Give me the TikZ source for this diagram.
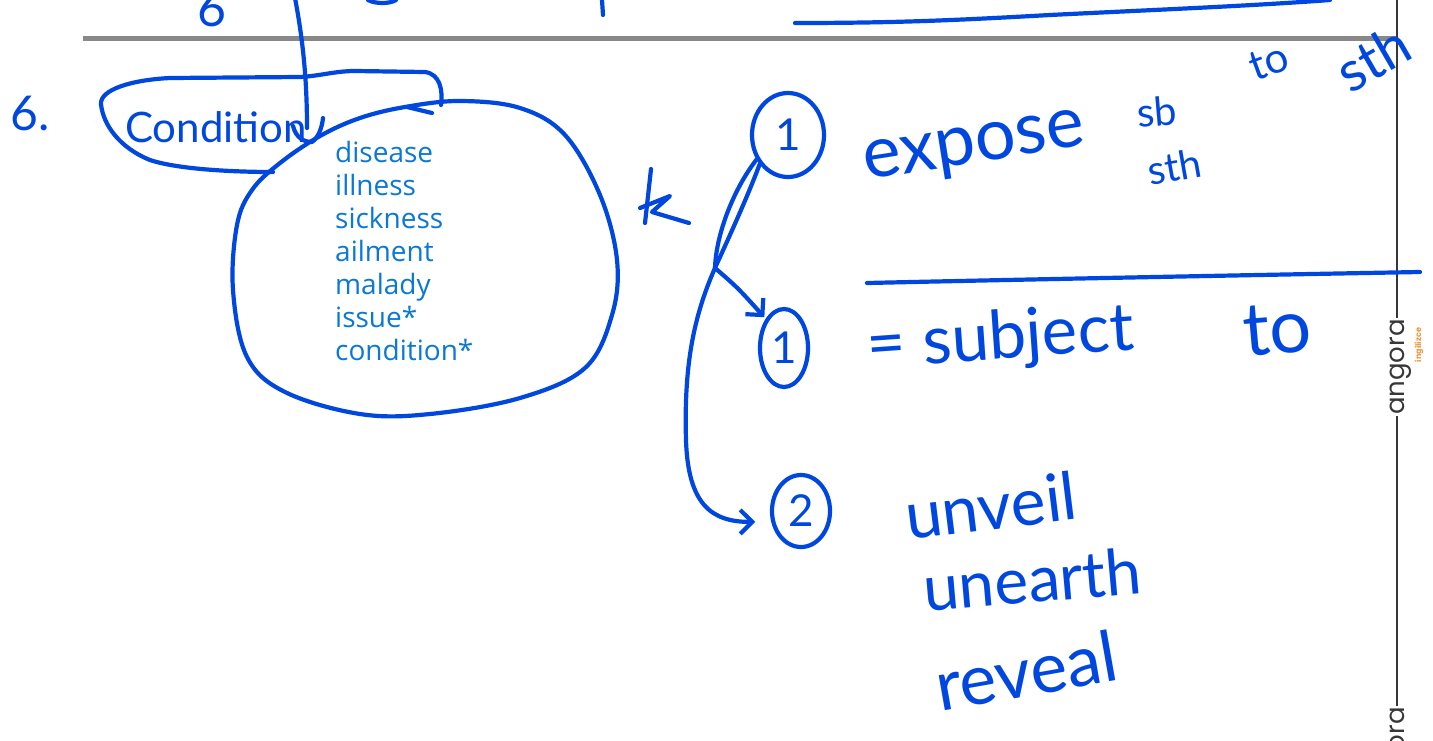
\documentclass[tikz,border=0pt]{standalone}
\usepackage{fontspec}
\setmainfont{Open Sans}
\newfontfamily\hand{Lato}
\newfontfamily\wmfont{Poppins}
\usetikzlibrary{shapes.geometric,arrows.meta}
\definecolor{ink}{RGB}{0,71,224}
\definecolor{typed}{RGB}{10,120,212}
\definecolor{rulegray}{RGB}{136,136,136}
\definecolor{wmgray}{RGB}{55,55,55}
\definecolor{wmorange}{RGB}{240,150,60}
\tikzset{
  pen/.style={draw=ink, line width=4.2pt, line cap=round, line join=round},
  hw/.style={text=ink, font=\hand\fontsize{#1}{#1}\selectfont, inner sep=0pt},
  hw/.default=50,
  numc/.style={ellipse, draw=ink, line width=4.2pt, inner sep=0pt, text=ink,
    font=\hand\fontsize{44}{44}\selectfont},
  arr/.style={-{Straight Barb[length=12pt,width=24pt,line width=4.2pt]}},
  wmtext/.style={rotate=90, fill=white, text=wmgray, inner sep=1pt,
    font=\wmfont\fontsize{26}{26}\selectfont},
}
\begin{document}
\begin{tikzpicture}[x=1pt,y=-1pt]
\useasboundingbox (0,0) rectangle (1433,740);
\fill[white] (0,0) rectangle (1433,740);

% ruled lines
\draw[rulegray, line width=5pt] (83,38) -- (1397,38);
\draw[wmgray, line width=1.3pt] (1397,0) -- (1397,740);
\node[wmtext, anchor=east] (wm1) at (1401,318) {angora};
\node[rotate=90, text=wmorange, inner sep=0pt, font=\wmfont\bfseries\fontsize{8}{8}\selectfont] (wm1b) at (1419,345) {ingilizce};
\node[wmtext, anchor=east] (wm2) at (1401,706) {angora};

% cut-off strokes at the top
\node[hw=50, anchor=south] (sixtop) at (212,27) {6};
\draw[pen] (368,0) .. controls (375,4) and (390,4) .. (396,0);
\draw[pen] (602,0) -- (603,15);
\draw[pen] (795,23) .. controls (900,23) and (960,20) .. (1050,15) .. controls (1150,10) and (1250,6) .. (1330,0);

% left side
\node[hw=48, anchor=base west] (six) at (10,130) {6.};
\node[hw=42, anchor=base west] (cond) at (125,142) {Condition};
\draw[pen] (273,172) .. controls (240,172) and (180,170) .. (150,160)
  .. controls (120,148) and (103,125) .. (101,104)
  .. controls (100,90) and (130,80) .. (170,78)
  -- (300,77) .. controls (320,76) and (335,71) .. (355,71)
  -- (425,72) .. controls (440,74) and (443,90) .. (441,105);
\coordinate (ctop) at (295,-2);
\coordinate (cend) at (307,128);
\draw[pen] (ctop) .. controls (303,40) and (307,80) .. (cend);
\draw[pen] (293,126) .. controls (296,138) and (304,142) .. (312,142) .. controls (318,138) and (322,128) .. (323,118);

% synonym bubble
\draw[pen] plot[smooth cycle, tension=0.6] coordinates {
  (405,107) (460,101) (520,108) (565,135) (600,195) (617,260) (612,315)
  (585,368) (520,398) (430,414) (360,414) (285,392) (247,357)
  (233,290) (237,225) (252,190) (280,163) (320,136) (360,118)};
\draw[pen] (407,107) -- (432,113);
\node[text=typed, align=left, anchor=north west, inner sep=0pt,
  font=\fontsize{28}{33}\selectfont] (syn) at (335,141)
  {disease\\illness\\sickness\\ailment\\malady\\issue*\\condition*};

% star
\draw[pen] (651,169) -- (645,223);
\draw[pen] (640,208) -- (670,196) -- (652,212) -- (689,223);

% numbered circles and arrows
\node[numc, minimum width=72pt, minimum height=84pt] (c1) at (788,135) {1};
\node[numc, minimum width=48pt, minimum height=78pt] (c1b) at (784,348) {1};
\node[numc, minimum width=58pt, minimum height=72pt] (c2) at (801,511) {2};
\coordinate (branch) at (715,268);
\draw[pen] (c1.218) .. controls (733,190) and (716,235) .. (branch);
\draw[pen] (c1.226) .. controls (747,198) and (730,235) .. (branch);
\draw[pen, arr, shorten >=2pt] (branch) .. controls (738,288) .. (c1b.122);
\draw[pen, arr, shorten >=16pt] (branch) .. controls (692,320) and (684,370) .. (686,440)
  .. controls (688,505) and (712,522) .. (c2.200);

% handwritten right-hand notes
\node[hw=72, rotate=9, anchor=base west] (expose) at (866,180) {expose};
\node[hw=40, rotate=5, anchor=base west] (sb) at (1138,128) {sb};
\node[hw=40, rotate=10, anchor=base west] (sth1) at (1150,186) {sth};
\node[hw=42, rotate=20, anchor=base west] (to1) at (1255,82) {to};
\node[hw=56, rotate=30, anchor=base west] (sth2) at (1350,95) {sth};
\draw[pen] (867,283) .. controls (1000,280) and (1200,276) .. (1420,272);
\node[hw=67, rotate=4, anchor=base west] (subj) at (868,368) {= subject};
\node[hw=74, rotate=5, anchor=base west] (to2) at (1245,357) {to};
\node[hw=66, rotate=7, anchor=base west] (unveil) at (908,540) {unveil};
\node[hw=64, rotate=5, anchor=base west] (unearth) at (925,612) {unearth};
\node[hw=70, rotate=10, anchor=base west] (reveal) at (940,712) {reveal};
\end{tikzpicture}
\end{document}
